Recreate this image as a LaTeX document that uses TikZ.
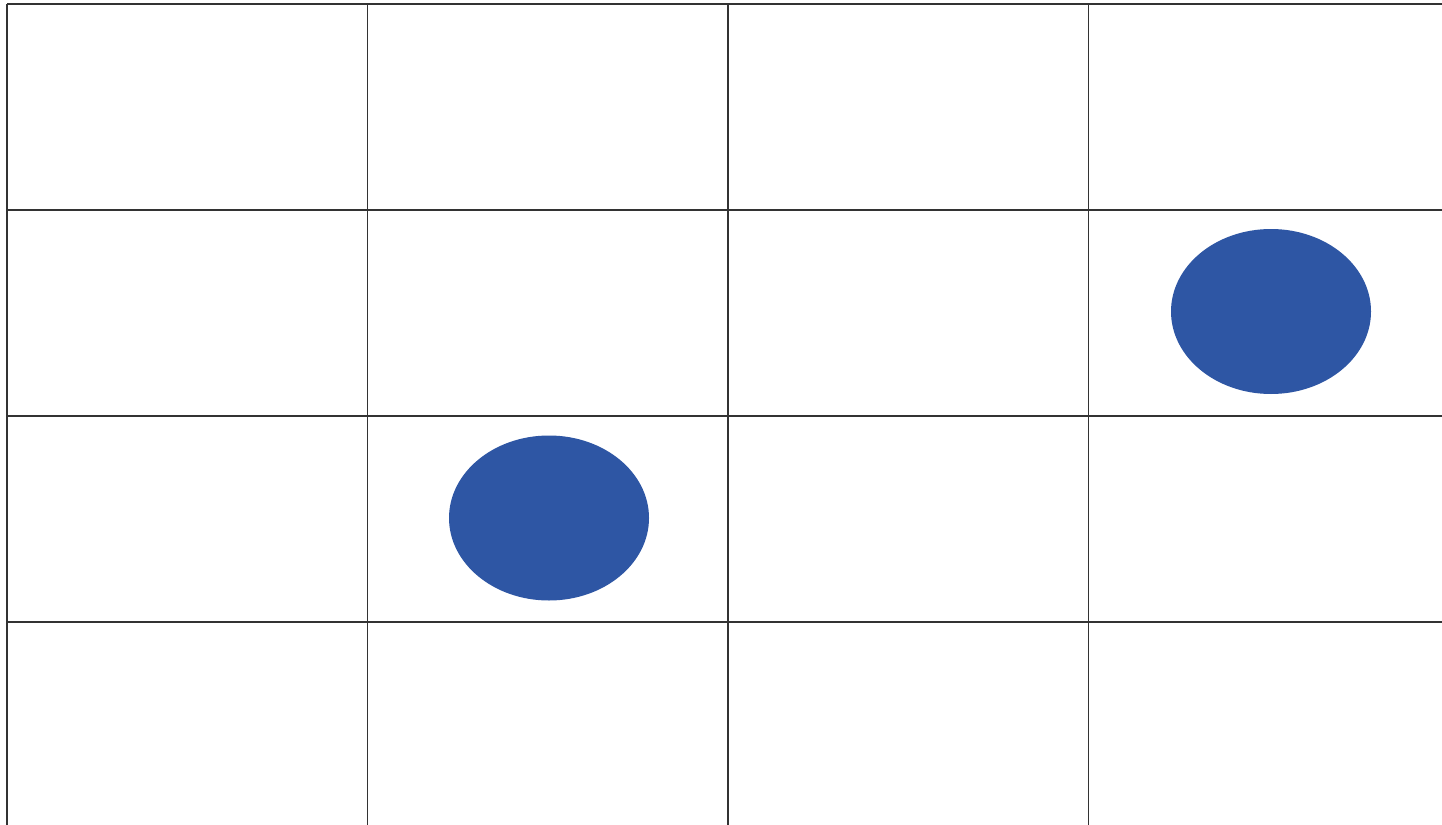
\documentclass[tikz,border=0pt]{standalone}
\begin{document}
\begin{tikzpicture}[x=1pt,y=-1pt,
  gridline/.style={draw=black!80, line width=1.6pt},
  dot/.style={ellipse, fill=dotblue, draw=none, minimum width=200pt, minimum height=165pt, inner sep=0pt}]
\definecolor{dotblue}{HTML}{2E56A4}
\useasboundingbox (0,0) rectangle (1442,824);
\fill[white] (0,0) rectangle (1442,824);
\foreach \x in {7,367.5,728,1088.5} \draw[gridline] (\x,4) -- (\x,830);
\foreach \y in {4,210,416,622} \draw[gridline] (7,\y) -- (1450,\y);
\fill[dotblue] (1271,311.5) ellipse [x radius=100, y radius=82.5];
\fill[dotblue] (549,518) ellipse [x radius=100, y radius=82.5];
\end{tikzpicture}
\end{document}
